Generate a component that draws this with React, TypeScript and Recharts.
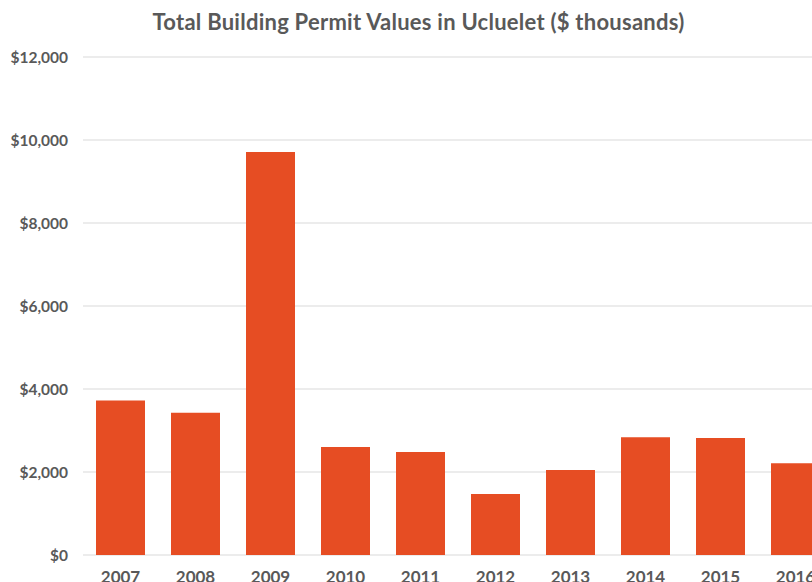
import * as React from "react";
import { BarChart, Bar, XAxis, YAxis, CartesianGrid } from "recharts";

// ─── Data ─────────────────────────────────────────────────────────────────────
const years = ["2007", "2008", "2009", "2010", "2011", "2012", "2013", "2014", "2015", "2016"];
const permitValues = [3720, 3430, 9710, 2600, 2480, 1470, 2050, 2840, 2820, 2210];
const yTicks = [0, 2000, 4000, 6000, 8000, 10000, 12000];

const data = years.map((year, i) => ({ year, value: permitValues[i] }));

const COLORS = {
  bar: "#E64D23",
  grid: "#D9D9D9",
  text: "#595959",
} as const;

const tickStyle = {
  fontFamily: "Lato, sans-serif",
  fontWeight: 700,
  fontSize: 15.5,
  fill: COLORS.text,
} as const;

const fmt = (v: number) => "$" + v.toLocaleString("en-US");

export default function App() {
  return (
    <div
      style={{
        position: "fixed",
        left: 0,
        top: 0,
        width: 812,
        height: 582,
        overflow: "hidden",
        background: "#fff",
      }}
    >
      <div
        style={{
          position: "absolute",
          left: 0,
          top: 8,
          width: 837,
          textAlign: "center",
          fontFamily: "Lato, sans-serif",
          fontWeight: 700,
          fontSize: 22,
          letterSpacing: 0.25,
          color: COLORS.text,
        }}
      >
        Total Building Permit Values in Ucluelet ($ thousands)
      </div>
      <BarChart
        width={840}
        height={600}
        data={data}
        margin={{ top: 57, right: 7, bottom: 0, left: 0 }}
        barSize={49}
      >
        <CartesianGrid stroke={COLORS.grid} vertical={false} />
        <XAxis
          dataKey="year"
          height={45}
          axisLine={false}
          tickLine={false}
          tickSize={0}
          tickMargin={16}
          tick={{ ...tickStyle, fontSize: 17 }}
        />
        <YAxis
          width={83}
          domain={[0, 12000]}
          ticks={yTicks}
          tickFormatter={fmt}
          axisLine={false}
          tickLine={false}
          tickSize={0}
          tickMargin={15}
          tick={tickStyle}
        />
        <Bar dataKey="value" fill={COLORS.bar} isAnimationActive={false} />
      </BarChart>
    </div>
  );
}
